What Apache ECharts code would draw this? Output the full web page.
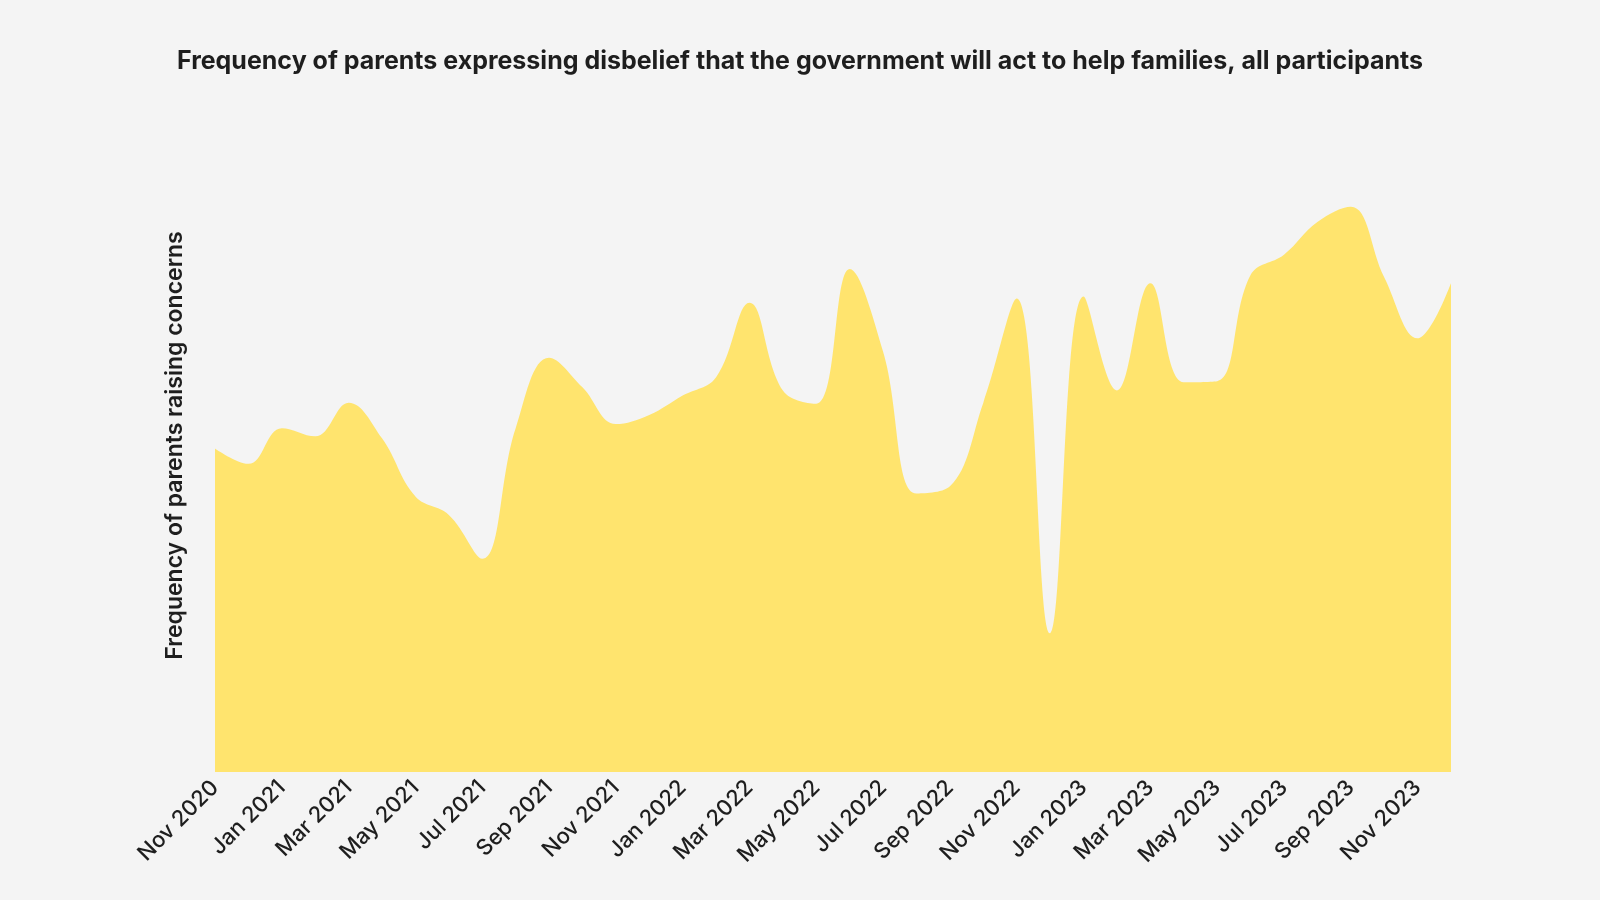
<!DOCTYPE html>
<html>
<head>
<meta charset="utf-8">
<script src="https://cdn.jsdelivr.net/npm/echarts@6/dist/echarts.min.js"></script>
<style>
    html, body { margin: 0; padding: 0; background: #f4f4f4; }
    #chart { width: 1600px; height: 900px; }
</style>
</head>
<body>
<div id="chart"></div>
<script>
    var months = [
        'Nov 2020', 'Dec 2020',
        'Jan 2021', 'Feb 2021', 'Mar 2021', 'Apr 2021', 'May 2021', 'Jun 2021',
        'Jul 2021', 'Aug 2021', 'Sep 2021', 'Oct 2021', 'Nov 2021', 'Dec 2021',
        'Jan 2022', 'Feb 2022', 'Mar 2022', 'Apr 2022', 'May 2022', 'Jun 2022',
        'Jul 2022', 'Aug 2022', 'Sep 2022', 'Oct 2022', 'Nov 2022', 'Dec 2022',
        'Jan 2023', 'Feb 2023', 'Mar 2023', 'Apr 2023', 'May 2023', 'Jun 2023',
        'Jul 2023', 'Aug 2023', 'Sep 2023', 'Oct 2023', 'Nov 2023', 'Dec 2023'
    ];

    // relative frequency (no scale shown on the original)
    var frequency = [
        31.7, 30.2,
        33.7, 32.9, 36.2, 32.7, 27.0, 25.2,
        20.9, 33.7, 40.6, 37.7, 34.1, 35.0,
        36.9, 38.7, 46.0, 37.4, 36.1, 49.3,
        41.2, 27.3, 28.0, 36.2, 46.4, 13.6,
        46.6, 37.4, 47.9, 38.2, 38.3, 48.7,
        50.7, 53.9, 55.4, 48.5, 42.5, 47.9
    ];

    var chart = echarts.init(document.getElementById('chart'));

    chart.setOption({
        backgroundColor: '#f4f4f4',
        textStyle: { fontFamily: 'Inter' },
        title: {
            text: 'Frequency of parents expressing disbelief that the government will act to help families, all participants',
            left: 'center',
            top: 44,
            textStyle: {
                fontFamily: 'Inter',
                fontSize: 25,
                fontWeight: 700,
                color: '#1e1e1e'
            }
        },
        grid: {
            left: 215,
            right: 149,
            top: 119,
            bottom: 128
        },
        xAxis: {
            type: 'category',
            data: months,
            boundaryGap: false,
            axisLine: { show: false },
            axisTick: { show: false },
            axisLabel: {
                interval: 1,
                rotate: 45,
                margin: 12,
                fontSize: 22,
                fontWeight: 500,
                color: '#1e1e1e'
            }
        },
        yAxis: {
            type: 'value',
            min: 0,
            max: 64,
            name: 'Frequency of parents raising concerns',
            nameLocation: 'middle',
            nameGap: 28,
            nameTextStyle: {
                fontSize: 23,
                fontWeight: 600,
                color: '#1e1e1e'
            },
            axisLine: { show: false },
            axisTick: { show: false },
            axisLabel: { show: false },
            splitLine: { show: false }
        },
        series: [{
            type: 'line',
            data: frequency,
            smooth: 0.4,
            symbol: 'none',
            lineStyle: { width: 0 },
            areaStyle: { color: '#ffe46e', opacity: 1 }
        }]
    });
</script>
</body>
</html>
